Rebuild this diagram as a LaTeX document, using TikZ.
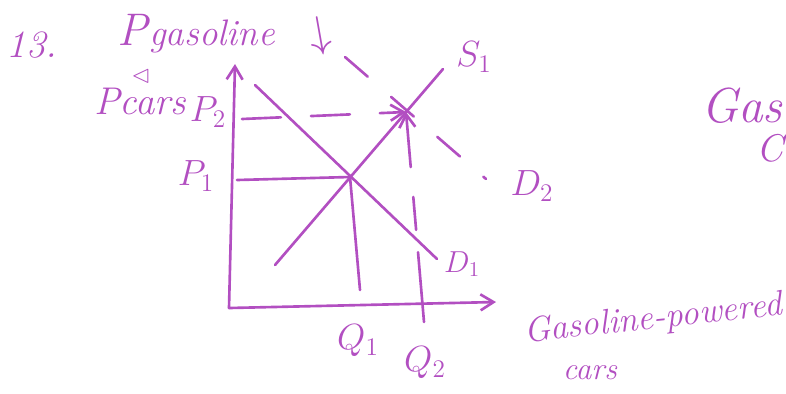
\documentclass[tikz,border=0pt]{standalone}
\usepackage{amssymb}
\usepackage{fontspec}
\usepackage{xcolor}
\definecolor{ink}{HTML}{B24FC1}
\usepackage{tikz}
\usetikzlibrary{arrows.meta, positioning, calc}

\begin{document}
\begin{tikzpicture}[
  x=0.02cm, y=-0.02cm,
  curve/.style={draw=ink, line width=1.5pt, line cap=round},
  barb/.style={-{Straight Barb[length=2.6mm, width=3.2mm]}},
  lbl/.style={text=ink, inner sep=0pt, font=\fontsize{22}{24}\selectfont\itshape},
  sml/.style={text=ink, inner sep=0pt, font=\fontsize{18}{20}\selectfont\itshape}
]
  \clip (0,0) rectangle (786,393);

  \coordinate (o) at (229,308);
  \coordinate (ytop) at (235,64);
  \coordinate (xend) at (496,302);
  \coordinate (e1) at (350,177);
  \coordinate (e2) at (406,112);
  \coordinate (d1s) at (255,85);
  \coordinate (d1e) at (437,259);
  \coordinate (s1s) at (275,265);
  \coordinate (s1e) at (443,69);
  \coordinate (d2s) at (345,57);
  \coordinate (d2e) at (486,179);
  \coordinate (q1b) at (360,290);
  \coordinate (q2b) at (424,322);
  \coordinate (p1a) at (237,180);
  \coordinate (p2a) at (242,119);

  \draw[curve, barb] (o) -- (ytop);
  \draw[curve, barb] (o) -- (xend);

  \draw[curve] (d1s) -- (d1e);
  \draw[curve] (s1s) -- (s1e);
  \draw[curve, dash pattern=on 0.6cm off 0.62cm] (d2s) -- (d2e);

  \draw[curve] (p1a) -- (e1);
  \draw[curve] (e1) -- (q1b);
  \draw[curve, barb, dash pattern=on 0.78cm off 0.6cm] (p2a) -- (e2);
  \draw[curve, barb, dash pattern=on 1.4cm off 0.45cm on 0.66cm off 0.6cm] (q2b) -- (e2);

  \node[lbl] (num) at (32,45) {13.};
  \node[lbl] (pgas) at (196,34) {\fontsize{26}{28}\selectfont P\kern1pt{\fontsize{21}{22}\selectfont gasoline}};
  \node[lbl, rotate=10, font=\fontsize{30}{32}\selectfont] (down) at (320,36) {$\downarrow$};
  \node[sml, font=\fontsize{14}{16}\selectfont] (tri) at (141,76) {$\vartriangleleft$};
  \node[lbl] (pcars) at (140,101) {Pcars};
  \node[lbl] (p2) at (208,112) {$P_2$};
  \node[lbl] (p1) at (196,176) {$P_1$};
  \node[lbl] (s1) at (474,57) {$S_1$};
  \node[lbl] (d2) at (532,186) {$D_2$};
  \node[sml] (d1) at (462,264) {$D_1$};
  \node[lbl] (q1) at (358,341) {$Q_1$};
  \node[lbl] (q2) at (425,363) {$Q_2$};
  \node[lbl, rotate=6, anchor=east, font=\fontsize{20}{22}\selectfont\itshape] (xlab) at (782,306) {Gasoline-powered};
  \node[sml] (xcars) at (590,373) {cars};
  \node[lbl, anchor=east, font=\fontsize{28}{30}\selectfont\itshape] (gas) at (783,106) {Gas};
  \node[lbl, anchor=east] (gasc) at (784,148) {C};
\end{tikzpicture}
\end{document}
